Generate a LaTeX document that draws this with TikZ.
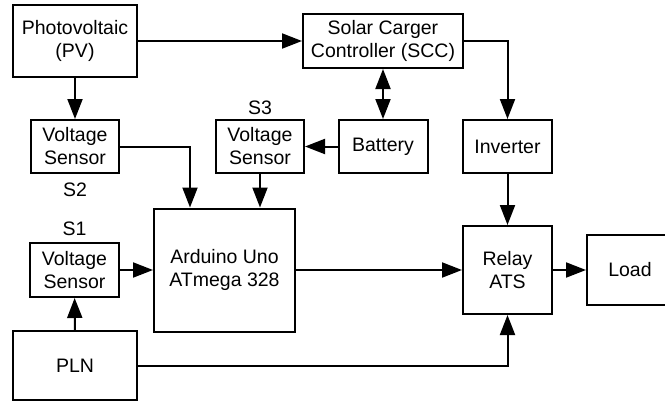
\documentclass[tikz,border=0pt]{standalone}
\usepackage{fontspec}
\setmainfont{Liberation Sans}
\usepackage{tikz}
\usetikzlibrary{arrows.meta, positioning, calc}
\tikzset{
  block/.style={rectangle, draw=black, fill=white, align=center,
    inner sep=0pt, line width=1pt,
    font=\fontsize{9.75}{11.5}\selectfont},
  senslabel/.style={inner sep=0pt, font=\fontsize{9.75}{11.5}\selectfont},
  arrow/.style={-{Triangle[length=10pt, width=7.5pt]}, line width=1pt, color=black},
  line/.style={draw, line width=1pt, color=black}
}
\begin{document}
\begin{tikzpicture}[x=0.5pt, y=-0.5pt]
  \useasboundingbox (0,0) rectangle (665,402);

  % Sources (top row)
  \node[block, minimum width=62pt, minimum height=36pt] (pv) at (75,41) {Photovoltaic\\(PV)};
  \node[block, minimum width=80pt, minimum height=27pt] (scc) at (383,41) {Solar Carger\\Controller (SCC)};

  % Sensors, battery, inverter
  \node[block, minimum width=44pt, minimum height=26.5pt] (vs2) at (75,146.5) {Voltage\\Sensor};
  \node[block, minimum width=44pt, minimum height=26.5pt] (vs3) at (260,146.5) {Voltage\\Sensor};
  \node[block, minimum width=44.5pt, minimum height=26.5pt] (bat) at (383,146.5) {Battery};
  \node[block, minimum width=44.5pt, minimum height=26.5pt] (inv) at (507.5,146.5) {Inverter};

  % Control and switching
  \node[block, minimum width=70.5pt, minimum height=61.5pt] (ard) at (224.5,270) {Arduino Uno\\ATmega 328};
  \node[block, minimum width=44.5pt, minimum height=27pt] (vs1) at (74.5,270) {Voltage\\Sensor};
  \node[block, minimum width=44.5pt, minimum height=44pt] (relay) at (507.5,270) {Relay\\ATS};
  \node[block, minimum width=43pt, minimum height=35pt] (load) at (630,270) {Load};
  \node[block, minimum width=62pt, minimum height=34.5pt] (pln) at (75,365.5) {PLN};

  % Sensor names
  \node[senslabel, below=4pt of vs2] (s2) {S2};
  \node[senslabel, above=2pt of vs3] (s3) {S3};
  \node[senslabel, above=3pt of vs1] (s1) {S1};

  % Connections
  \draw[arrow] (pv) -- (scc);
  \draw[arrow] (pv) -- (vs2);
  \draw[arrow, {Triangle[length=10pt, width=7.5pt]}-{Triangle[length=10pt, width=7.5pt]}] (scc) -- (bat);
  \draw[arrow] (scc.east) -| (inv.north);
  \draw[arrow] (bat) -- (vs3);
  \draw[arrow] (vs2.east) -| ([xshift=-17.25pt]ard.north);
  \draw[arrow] (vs3) -- (vs3 |- ard.north);
  \draw[arrow] (inv) -- (relay);
  \draw[arrow] (vs1) -- (ard);
  \draw[arrow] (pln) -- (vs1);
  \draw[arrow] (ard) -- (relay);
  \draw[arrow] (relay) -- (load);
  \draw[arrow] (pln.east) -| (relay.south);
\end{tikzpicture}
\end{document}
